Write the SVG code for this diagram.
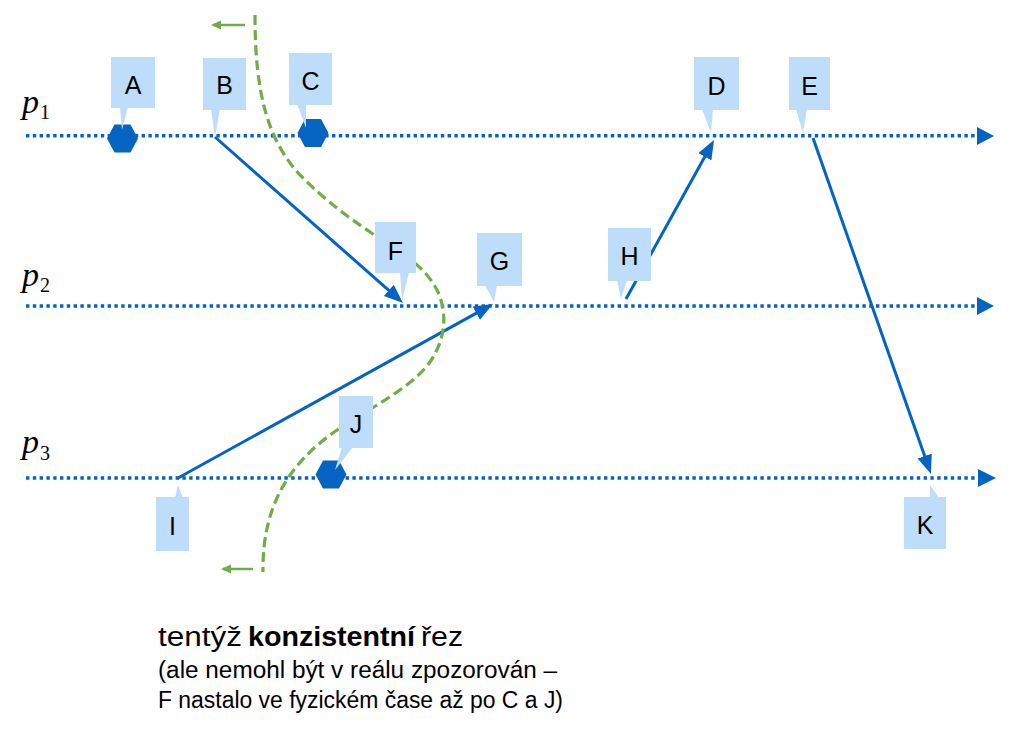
<svg xmlns="http://www.w3.org/2000/svg" width="1017" height="731" viewBox="0 0 1017 731">
<style>
.tl{fill:none;stroke:#0563C1;stroke-width:3.5;stroke-dasharray:3.4 3.4}
.ah{fill:#0563C1}
.msg{fill:none;stroke:#0563C1;stroke-width:3}
.cut{fill:none;stroke:#70AD47;stroke-width:3.2;stroke-dasharray:10 5}
.garr{fill:none;stroke:#70AD47;stroke-width:2.5}
.co{fill:#BEDDFB}
.lbl{font-family:"Liberation Sans",Arial,sans-serif;font-size:25px;fill:#000;text-anchor:middle}
.pl{font-family:"Liberation Serif","Times New Roman",serif;fill:#000}
.cap{font-family:"Liberation Sans",Arial,sans-serif;fill:#000}
.hex{fill:#0563C1}
</style>
<defs>
<marker id="ba" markerUnits="userSpaceOnUse" markerWidth="22" markerHeight="18" refX="14" refY="7.5" orient="auto"><path d="M0,0 L19,7.5 L0,15 z" fill="#0563C1"/></marker>
<marker id="ga" markerUnits="userSpaceOnUse" markerWidth="12" markerHeight="10" refX="8" refY="4.5" orient="auto"><path d="M0,0 L10,4.5 L0,9 z" fill="#70AD47"/></marker>
<polygon id="hx" points="-15.5,0 -8,-14 8,-14 15.5,0 8,14 -8,14"/>
</defs>

<g id="timelines">
<g id="p1">
<line class="tl" x1="26" y1="135.7" x2="978" y2="135.7"/>
<polygon class="ah" points="977,127 994,136 977,145"/>
<text class="pl" x="22" y="112.5" font-size="34" font-style="italic">p</text>
<text class="pl" x="40" y="119" font-size="20">1</text>
</g>
<g id="p2">
<line class="tl" x1="26" y1="306" x2="978" y2="306"/>
<polygon class="ah" points="977,297 994,306 977,315"/>
<text class="pl" x="22" y="285.5" font-size="34" font-style="italic">p</text>
<text class="pl" x="40" y="292" font-size="20">2</text>
</g>
<g id="p3">
<line class="tl" x1="26" y1="478" x2="978" y2="478"/>
<polygon class="ah" points="978,469 996,478 978,487"/>
<text class="pl" x="22" y="453" font-size="34" font-style="italic">p</text>
<text class="pl" x="40" y="460" font-size="20">3</text>
</g>
</g>

<g id="connectors">
<line class="msg" x1="215" y1="137" x2="399.3" y2="299.7" marker-end="url(#ba)"/>
<line class="msg" x1="178" y1="478" x2="488.6" y2="306.4" marker-end="url(#ba)"/>
<line class="msg" x1="626" y1="299" x2="711.6" y2="144.4" marker-end="url(#ba)"/>
<line class="msg" x1="813" y1="138" x2="929.3" y2="469.3" marker-end="url(#ba)"/>
</g>

<g id="cut">
<path class="cut" d="M255,15 C255,95 268,140 300,175 C325,200 345,215 370,232 C400,252 425,265 438,292 C448,315 445,340 430,362 C410,390 365,410 330,435 C290,465 262,505 263,572"/>
<line class="garr" x1="245" y1="25" x2="213" y2="25" marker-end="url(#ga)"/>
<line class="garr" x1="253" y1="569" x2="223" y2="569" marker-end="url(#ga)"/>
</g>

<g id="events">
<use href="#hx" class="hex" x="122.5" y="138.5"/>
<use href="#hx" class="hex" x="313" y="133"/>
<use href="#hx" class="hex" x="331" y="474.5"/>
</g>

<g id="A"><rect class="co" x="111" y="57" width="44" height="51"/><polygon class="co" points="120,107 128,107 122,130"/><text class="lbl" x="133" y="94">A</text></g>
<g id="B"><rect class="co" x="203" y="58" width="43" height="52"/><polygon class="co" points="211,109 220,109 215,137"/><text class="lbl" x="224.5" y="94">B</text></g>
<g id="C"><rect class="co" x="289" y="53" width="43" height="52"/><polygon class="co" points="297,104 306,104 306,128"/><text class="lbl" x="310.5" y="90">C</text></g>
<g id="D"><rect class="co" x="694" y="57" width="45" height="53"/><polygon class="co" points="702,109 713,109 711,133"/><text class="lbl" x="716.5" y="95">D</text></g>
<g id="E"><rect class="co" x="789" y="57" width="41" height="53"/><polygon class="co" points="796,109 807,109 803,133"/><text class="lbl" x="809.5" y="95">E</text></g>
<g id="F"><rect class="co" x="375" y="222" width="41" height="51"/><polygon class="co" points="400,272 409,272 402,301"/><text class="lbl" x="395.5" y="260">F</text></g>
<g id="G"><rect class="co" x="477" y="233" width="45" height="53"/><polygon class="co" points="485,285 497,285 494,302"/><text class="lbl" x="499.5" y="270">G</text></g>
<g id="H"><rect class="co" x="608" y="228" width="43" height="53"/><polygon class="co" points="617,280 627,280 621,299"/><text class="lbl" x="629.5" y="265">H</text></g>
<g id="I"><rect class="co" x="156" y="497" width="33" height="54"/><polygon class="co" points="175,498 183,498 178,485"/><text class="lbl" x="172.5" y="535">I</text></g>
<g id="J"><rect class="co" x="339" y="396" width="34" height="52"/><polygon class="co" points="342,447 353,447 335,470"/><text class="lbl" x="356" y="433">J</text></g>
<g id="K"><rect class="co" x="904" y="497" width="42" height="52"/><polygon class="co" points="930,498 939,498 930,485"/><text class="lbl" x="925" y="534">K</text></g>

<g id="caption">
<text class="cap" x="158" y="646" font-size="27" textLength="84" lengthAdjust="spacingAndGlyphs">tentýž</text>
<text class="cap" x="248" y="646" font-size="27" font-weight="bold" textLength="167" lengthAdjust="spacingAndGlyphs">konzistentní</text>
<text class="cap" x="421" y="646" font-size="27" textLength="42" lengthAdjust="spacingAndGlyphs">řez</text>
<text class="cap" x="158" y="678" font-size="23" textLength="399" lengthAdjust="spacingAndGlyphs">(ale nemohl být v reálu zpozorován –</text>
<text class="cap" x="158" y="708" font-size="23" textLength="405" lengthAdjust="spacingAndGlyphs">F nastalo ve fyzickém čase až po C a J)</text>
</g>
</svg>
